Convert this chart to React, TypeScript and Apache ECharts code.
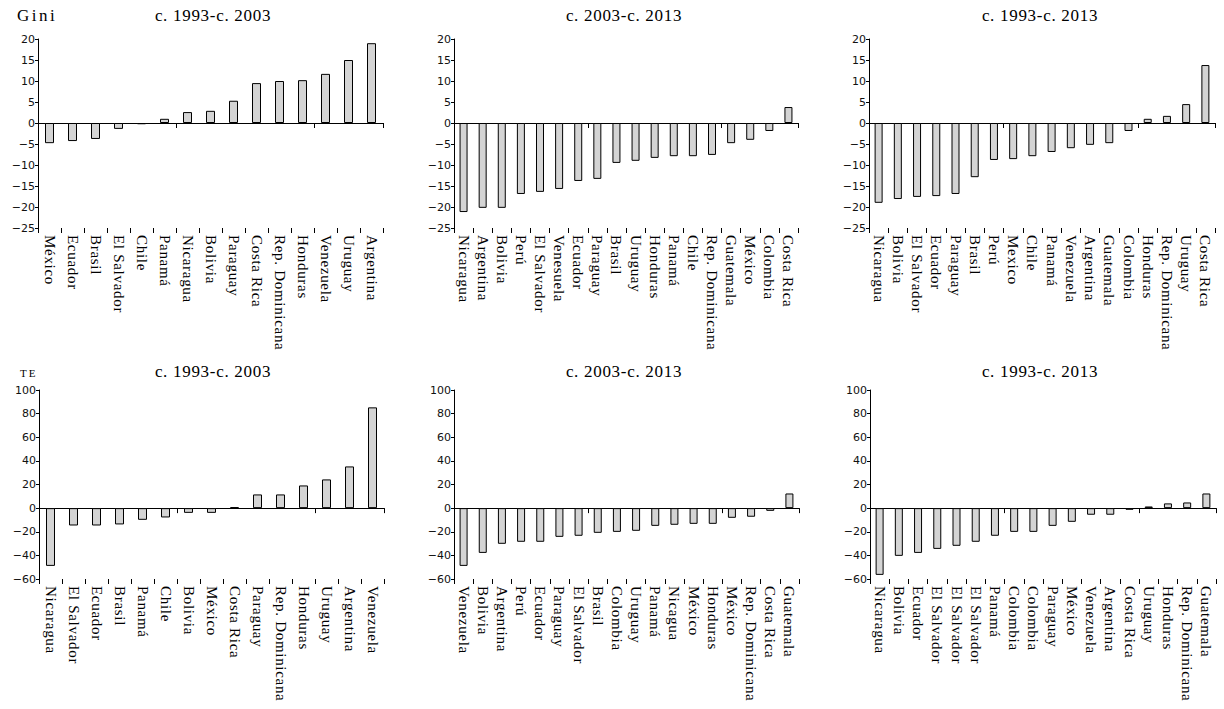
import React, { useEffect, useRef } from "react";
import * as echarts from "echarts";

// ---- Data ----
const giniCats1 = ["México", "Ecuador", "Brasil", "El Salvador", "Chile", "Panamá", "Nicaragua", "Bolivia", "Paraguay", "Costa Rica", "Rep. Dominicana", "Honduras", "Venezuela", "Uruguay", "Argentina"];
const giniVals1 = [-4.8, -4.3, -3.8, -1.4, -0.3, 1.0, 2.6, 2.9, 5.3, 9.5, 10.0, 10.2, 11.7, 15.0, 19.0];

const giniCats2 = ["Nicaragua", "Argentina", "Bolivia", "Perú", "El Salvador", "Venesuela", "Ecuador", "Paraguay", "Brasil", "Uruguay", "Honduras", "Panamá", "Chile", "Rep. Dominicana", "Guatemala", "México", "Colombia", "Costa Rica"];
const giniVals2 = [-21.2, -20.2, -20.2, -16.9, -16.4, -15.7, -13.8, -13.3, -9.5, -9.0, -8.3, -7.9, -7.9, -7.6, -4.8, -4.0, -1.9, 3.8];

const giniCats3 = ["Nicaragua", "Bolivia", "El Salvador", "Ecuador", "Paraguay", "Brasil", "Perú", "Mexico", "Chile", "Panamá", "Venezuela", "Argentina", "Guatemala", "Colombia", "Honduras", "Rep. Dominicana", "Uruguay", "Costa Rica"];
const giniVals3 = [-19.0, -18.1, -17.6, -17.4, -16.9, -12.9, -8.8, -8.6, -7.9, -6.9, -6.0, -5.2, -4.8, -1.9, 1.0, 1.7, 4.5, 13.8];

const teCats1 = ["Nicaragua", "El Salvador", "Ecuador", "Brasil", "Panamá", "Chile", "Bolivia", "México", "Costa Rica", "Paraguay", "Rep. Dominicana", "Honduras", "Uruguay", "Argentina", "Venezuela"];
const teVals1 = [-48.9, -14.7, -14.7, -13.8, -9.9, -7.9, -4.0, -4.0, 0.8, 11.6, 11.6, 19.2, 24.3, 35.3, 85.3];

const teCats2 = ["Venezuela", "Bolivia", "Argentina", "Perú", "Ecuador", "Paraguay", "El Salvador", "Brasil", "Colombia", "Uruguay", "Panamá", "Nicagua", "México", "Honduras", "México", "Rep. Dominicana", "Costa Rica", "Guatemala"];
const teVals2 = [-48.9, -37.9, -30.2, -28.5, -28.5, -24.3, -23.4, -20.9, -20.1, -19.2, -15.0, -14.1, -13.3, -13.3, -8.2, -7.3, -2.3, 12.4];

const teCats3 = ["Nicaragua", "Bolivia", "Ecuador", "El Salvador", "El Salvador", "El Salvador", "Panamá", "Colombia", "Colombia", "Paraguay", "México", "Venezuela", "Argentina", "Costa Rica", "Uruguay", "Honduras", "Rep. Dominicana", "Guatemala"];
const teVals3 = [-56.5, -40.4, -37.9, -34.5, -31.9, -28.5, -23.4, -20.1, -20.1, -15.0, -11.6, -5.6, -5.6, -1.4, 1.4, 4.0, 4.8, 12.4];

const periodTitles = ["c. 1993-c. 2003", "c. 2003-c. 2013", "c. 1993-c. 2013"];
const rowLabels = ["Gini", "TE"];

const giniRange = { min: -25, max: 20, interval: 5 };
const teRange = { min: -60, max: 100, interval: 20 };

// ---- Layout ----
const panels = [
  { cats: giniCats1, vals: giniVals1, range: giniRange, left: 38, top: 39, width: 345, height: 189, barWidth: 9 },
  { cats: giniCats2, vals: giniVals2, range: giniRange, left: 454, top: 39, width: 344, height: 189, barWidth: 8 },
  { cats: giniCats3, vals: giniVals3, range: giniRange, left: 869, top: 39, width: 346, height: 189, barWidth: 8 },
  { cats: teCats1, vals: teVals1, range: teRange, left: 39, top: 390, width: 345, height: 189, barWidth: 9 },
  { cats: teCats2, vals: teVals2, range: teRange, left: 454, top: 390, width: 345, height: 189, barWidth: 8 },
  { cats: teCats3, vals: teVals3, range: teRange, left: 870, top: 390, width: 346, height: 189, barWidth: 8 },
];

const titleCentersX = [213, 624, 1040];
const titleRowsY = [15, 371];

const fmt = (v: number) => (v < 0 ? "\u2212" + Math.abs(v) : String(v));

const allCats = new Set<string>([...giniCats1, ...giniCats2, ...giniCats3, ...teCats1, ...teCats2, ...teCats3]);

function applySpacing(root: HTMLElement) {
  const texts = root.querySelectorAll("text");
  texts.forEach((t) => {
    const s = (t.textContent || "").trim();
    if (allCats.has(s)) {
      t.style.letterSpacing = "0.7px";
    } else if (periodTitles.indexOf(s) >= 0) {
      t.style.letterSpacing = "0.7px";
    } else if (s === rowLabels[0]) {
      t.style.letterSpacing = "2.5px";
    } else if (s === rowLabels[1]) {
      t.style.letterSpacing = "2px";
    }
  });
}

export default function App() {
  const ref = useRef<HTMLDivElement>(null);
  useEffect(() => {
    if (!ref.current) return;
    const el = ref.current;
    const chart = echarts.init(el, undefined, { renderer: "svg" });
    const grid: any[] = [];
    const xAxis: any[] = [];
    const yAxis: any[] = [];
    const series: any[] = [];
    panels.forEach((p, i) => {
      grid.push({ left: p.left, top: p.top, width: p.width, height: p.height });
      xAxis.push({
        type: "category",
        gridIndex: i,
        data: p.cats,
        position: "bottom",
        axisLine: { show: true, onZero: true, lineStyle: { color: "#000", width: 1 } },
        axisTick: { show: true, length: 5, lineStyle: { color: "#000", width: 1 } },
        axisLabel: { show: false },
        splitLine: { show: false },
      });
      xAxis.push({
        type: "category",
        gridIndex: i,
        data: p.cats,
        position: "bottom",
        axisLine: { show: false, onZero: false },
        axisTick: { show: true, length: 5, lineStyle: { color: "#000", width: 1 } },
        axisLabel: {
          show: true,
          interval: 0,
          rotate: -90,
          margin: 7,
          fontFamily: "Liberation Serif",
          fontSize: 15,
          color: "#000",
        },
        splitLine: { show: false },
      });
      yAxis.push({
        type: "value",
        gridIndex: i,
        min: p.range.min,
        max: p.range.max,
        interval: p.range.interval,
        axisLine: { show: true, onZero: false, lineStyle: { color: "#000", width: 1 } },
        axisTick: { show: true, length: 3, lineStyle: { color: "#000" } },
        splitLine: { show: false },
        axisLabel: { fontFamily: "DejaVu Sans", fontSize: 11, color: "#111", margin: 3, formatter: fmt },
      });
      series.push({
        type: "bar",
        xAxisIndex: 2 * i,
        yAxisIndex: i,
        data: p.vals,
        barWidth: p.barWidth,
        itemStyle: { color: "#d4d4d4", borderColor: "#000", borderWidth: 1 },
      });
    });

    const graphic: any[] = [];
    titleRowsY.forEach((y) => {
      periodTitles.forEach((t, j) => {
        graphic.push({
          type: "text",
          x: titleCentersX[j],
          y,
          style: { text: t, font: '17px "Liberation Serif"', fill: "#000", align: "center", verticalAlign: "middle" },
        });
      });
    });
    graphic.push({
      type: "text",
      x: 17,
      y: 15,
      style: { text: rowLabels[0], font: '17px "Liberation Serif"', fill: "#000", align: "left", verticalAlign: "middle" },
    });
    graphic.push({
      type: "text",
      x: 20,
      y: 373,
      style: { text: rowLabels[1], font: '11px "Liberation Serif"', fill: "#000", align: "left", verticalAlign: "middle" },
    });

    chart.setOption({
      animation: false,
      backgroundColor: "#fff",
      grid,
      xAxis,
      yAxis,
      series,
      graphic,
    });
    try {
      (chart.getZr() as any).flush();
    } catch (e) {}
    applySpacing(el);
    const onFinished = () => applySpacing(el);
    chart.on("finished", onFinished);
    return () => {
      chart.off("finished", onFinished);
      chart.dispose();
    };
  }, []);
  return <div ref={ref} style={{ position: "fixed", left: 0, top: 0, width: 1224, height: 709 }} />;
}
